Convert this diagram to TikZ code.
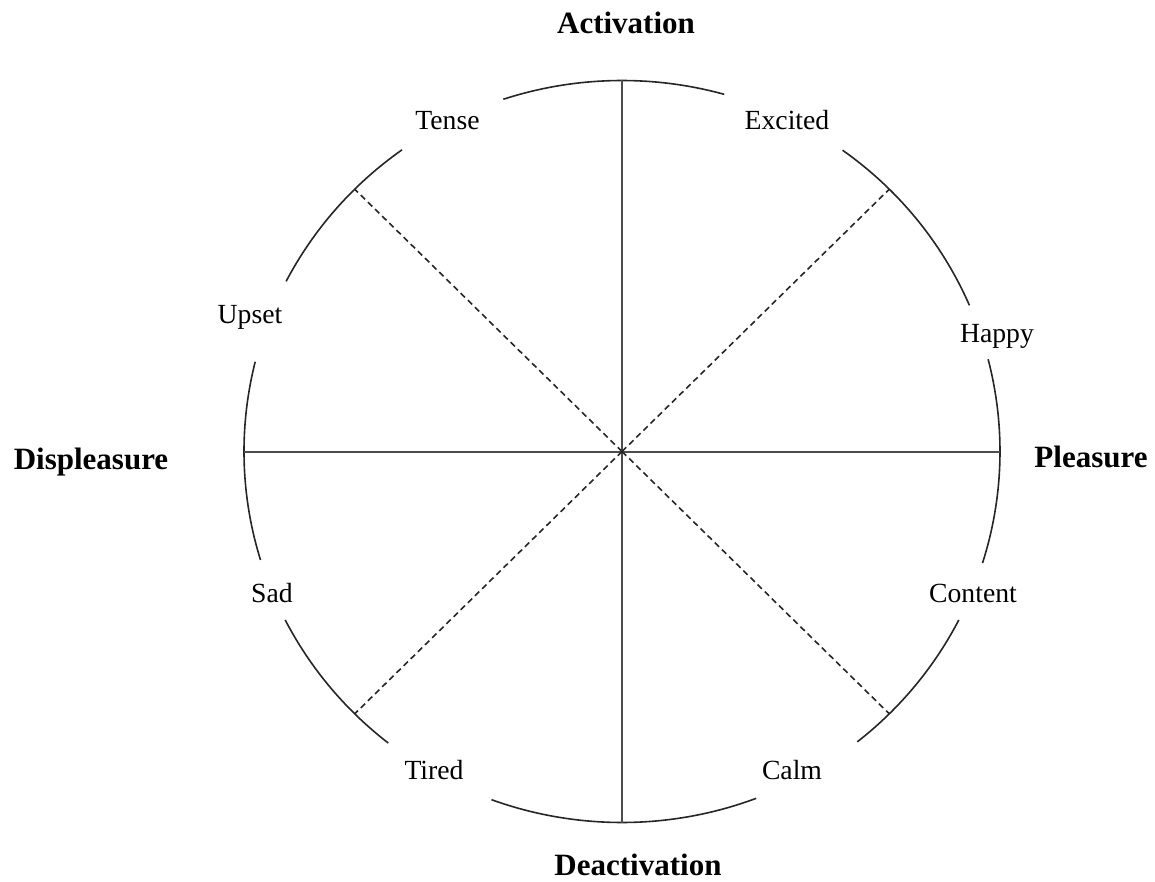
\documentclass[tikz,border=0pt]{standalone}
\usepackage{fontspec}
\setmainfont{Liberation Serif}
\begin{document}
\begin{tikzpicture}[x=1pt,y=-1pt,
  ring/.style={line width=1.6pt, black!85},
  axis/.style={line width=2pt, black!70},
  diag/.style={line width=1.6pt, black!85, dash pattern=on 6pt off 4pt},
  emo/.style={anchor=base, inner sep=0pt, font=\fontsize{27.7}{30}\selectfont},
  dim/.style={anchor=base, inner sep=0pt, font=\fontsize{31}{34}\selectfont\bfseries}]
\useasboundingbox (0,0) rectangle (1155,882);
\coordinate (O) at (622,451.5);
% axis ends
\coordinate (T) at (622,80);
\coordinate (B) at (622,823);
\coordinate (L) at (244,451.5);
\coordinate (R) at (1000,451.5);
% diagonal ends
\path (O) ++(45:378pt and 371pt) coordinate (UR);
\path (O) ++(135:378pt and 371pt) coordinate (UL);
\path (O) ++(225:378pt and 371pt) coordinate (LL);
\path (O) ++(315:378pt and 371pt) coordinate (LR);
% ring arcs
\foreach \a/\b in {74.3/108.3, 125.6/152.7, 166/197, 207/231.8, 249.8/290.8, 308.5/333, 342.5/374.4, 23.2/54.3}{
  \draw[ring] (O) ++(\a:378pt and 371pt) arc[start angle=\a, end angle=\b, x radius=378pt, y radius=371pt];
}
% axes
\draw[axis] (L) -- (R);
\draw[axis] (T) -- (B);
\draw[diag] (O) -- (UR);
\draw[diag] (O) -- (UL);
\draw[diag] (O) -- (LL);
\draw[diag] (O) -- (LR);
% labels
\node[dim] (act) at (626,34) {Activation};
\node[dim] (deact) at (638,875) {Deactivation};
\node[dim] (displ) at (91,469) {Displeasure};
\node[dim] (pleas) at (1091,467) {Pleasure};
\node[emo] (tense) at (447.5,130) {Tense};
\node[emo] (excited) at (787,130) {Excited};
\node[emo] (upset) at (250,323) {Upset};
\node[emo] (happy) at (997,342) {Happy};
\node[emo] (sad) at (272,602) {Sad};
\node[emo] (content) at (973,602) {Content};
\node[emo] (tired) at (434,779) {Tired};
\node[emo] (calm) at (792,779) {Calm};
\end{tikzpicture}
\end{document}
